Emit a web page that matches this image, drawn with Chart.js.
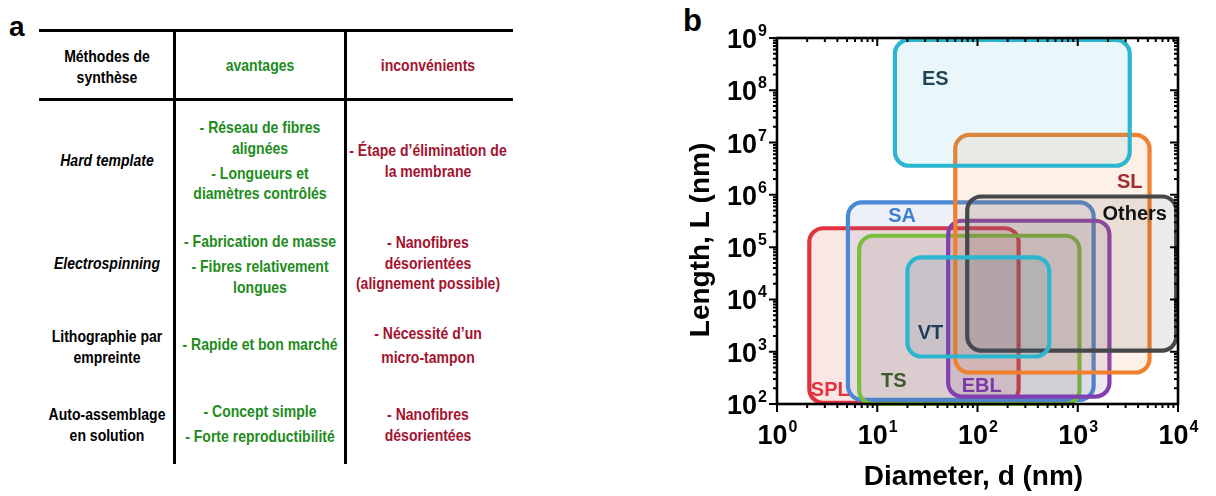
<!DOCTYPE html>
<html>
<head>
<meta charset="utf-8">
<script src="https://cdn.jsdelivr.net/npm/chart.js@4"></script>
<style>
    body { margin: 0; background: #fff; font-family: 'Liberation Sans', Arial, sans-serif; }
    #page { position: relative; width: 1216px; height: 496px; overflow: hidden; }
    .hline { position: absolute; left: 39px; width: 474px; height: 3px; background: #000; }
    .vline { position: absolute; top: 30px; width: 2.5px; height: 434px; background: #000; }
    .cell {
        position: absolute;
        transform: translate(-50%, -50%) scaleX(0.85);
        text-align: center;
        font-weight: bold;
        font-size: 16.5px;
        line-height: 20.5px;
        white-space: nowrap;
    }
    .cell p { margin: 0; }
    .cell p + p { margin-top: 4.5px; }
    .green { color: #218c1c; }
    .red { color: #a3122e; }
    .it { font-style: italic; }
    .panel { position: absolute; font-weight: bold; color: #000; }
    #chartBox { position: absolute; left: 680px; top: 0; width: 536px; height: 496px; }
</style>
</head>
<body>
<div id="page">
    <div class="panel" style="left:9px; top:11px; font-size:28px;">a</div>

    <div class="hline" style="top:29px;"></div>
    <div class="hline" style="top:98px;"></div>
    <div class="vline" style="left:173px;"></div>
    <div class="vline" style="left:344px;"></div>

    <!-- header -->
    <div class="cell" style="left:107px; top:66px;">Méthodes de<br>synthèse</div>
    <div class="cell green" style="left:260px; top:65px;">avantages</div>
    <div class="cell red" style="left:428px; top:65px;">inconvénients</div>

    <!-- Hard template -->
    <div class="cell it" style="left:107px; top:160px;">Hard template</div>
    <div class="cell green" style="left:260px; top:160px;">
        <p>- Réseau de fibres<br>alignées</p>
        <p>- Longueurs et<br>diamètres contrôlés</p>
    </div>
    <div class="cell red" style="left:428px; top:160px;">- Étape d’élimination de<br>la membrane</div>

    <!-- Electrospinning -->
    <div class="cell it" style="left:107px; top:263px;">Electrospinning</div>
    <div class="cell green" style="left:260px; top:264px;">
        <p>- Fabrication de masse</p>
        <p>- Fibres relativement<br>longues</p>
    </div>
    <div class="cell red" style="left:428px; top:263px;">- Nanofibres<br>désorientées<br>(alignement possible)</div>

    <!-- Lithographie -->
    <div class="cell" style="left:107px; top:346px;">Lithographie par<br>empreinte</div>
    <div class="cell green" style="left:260px; top:344px;">- Rapide et bon marché</div>
    <div class="cell red" style="left:428px; top:345px; line-height:24px;">- Nécessité d’un<br>micro-tampon</div>

    <!-- Auto-assemblage -->
    <div class="cell" style="left:107px; top:424px;">Auto-assemblage<br>en solution</div>
    <div class="cell green" style="left:260px; top:424px;">
        <p>- Concept simple</p>
        <p>- Forte reproductibilité</p>
    </div>
    <div class="cell red" style="left:428px; top:424px;">- Nanofibres<br>désorientées</div>

    <div class="panel" style="left:683px; top:3px; font-size:31px;">b</div>
    <div id="chartBox"><canvas id="rangeChart"></canvas></div>
</div>

<script>
// Fabrication methods and the diameter / length ranges they cover (nm)
const methods = ['SPL', 'SA', 'TS', 'EBL', 'SL', 'Others', 'VT', 'ES'];
const diamMin = [2.1, 5.1, 6.6, 51, 60, 79, 20, 15];
const diamMax = [257, 1440, 1040, 2070, 5200, 9600, 520, 3300];
const lenMin = [105, 120, 100, 138, 400, 1050, 810, 3.6e6];
const lenMax = [2.3e5, 7.2e5, 1.65e5, 3.2e5, 1.4e7, 9.3e5, 6.4e4, 9.2e8];

// where each method name is written
const labelDiam = [3.4, 17.7, 14.6, 110, 3300, 3700, 34, 38];
const labelLen = [185, 3.9e5, 270, 220, 1.7e6, 4.2e5, 2240, 1.6e8];

// tick exponents (10^n)
const xTickExps = [0, 1, 2, 3, 4];
const yTickExps = [2, 3, 4, 5, 6, 7, 8, 9];

const strokeColors = {
    SPL: '#e2323f', SA: '#4a89d6', TS: '#78be3c', EBL: '#8140b0',
    SL: '#f0802e', Others: '#45474a', VT: '#2bb5cf', ES: '#2bb5cf'
};
const fillColors = {
    SPL: 'rgba(226, 60, 60, 0.13)', SA: 'rgba(90, 120, 190, 0.11)', TS: 'rgba(120, 110, 70, 0.12)',
    EBL: 'rgba(110, 70, 120, 0.12)', SL: 'rgba(240, 140, 70, 0.13)', Others: 'rgba(70, 70, 70, 0.11)',
    VT: 'rgba(40, 120, 150, 0.10)', ES: 'rgba(43, 181, 207, 0.10)'
};
const labelColors = {
    SPL: '#e2323f', SA: '#3f7fd0', TS: '#3d5a2a', EBL: '#7a3aa6',
    SL: '#a02a2e', Others: '#111111', VT: '#1e3d5a', ES: '#1f4656'
};

function roundRect(ctx, x, y, w, h, r) {
    ctx.beginPath();
    ctx.moveTo(x + r, y);
    ctx.arcTo(x + w, y, x + w, y + h, r);
    ctx.arcTo(x + w, y + h, x, y + h, r);
    ctx.arcTo(x, y + h, x, y, r);
    ctx.arcTo(x, y, x + w, y, r);
    ctx.closePath();
}

// rounded range boxes drawn from each dataset's two corner points
const boxPlugin = {
    id: 'boxes',
    afterDatasetsDraw(chart) {
        const ctx = chart.ctx;
        const xs = chart.scales.x, ys = chart.scales.y;
        ctx.save();
        chart.data.datasets.forEach(ds => {
            const p0 = ds.data[0], p1 = ds.data[1];
            const x0 = xs.getPixelForValue(p0.x), x1 = xs.getPixelForValue(p1.x);
            const y0 = ys.getPixelForValue(p1.y), y1 = ys.getPixelForValue(p0.y);
            roundRect(ctx, x0, y0, x1 - x0, y1 - y0, 14);
            ctx.fillStyle = fillColors[ds.label];
            ctx.fill();
            ctx.lineWidth = 4.2;
            ctx.strokeStyle = strokeColors[ds.label];
            ctx.stroke();
        });
        ctx.font = 'bold 20px "Liberation Sans", Arial, sans-serif';
        ctx.textAlign = 'center';
        ctx.textBaseline = 'middle';
        methods.forEach((m, i) => {
            ctx.fillStyle = labelColors[m];
            ctx.fillText(m, xs.getPixelForValue(labelDiam[i]), ys.getPixelForValue(labelLen[i]));
        });
        ctx.restore();
    }
};

// frame, log ticks, power-of-ten labels and axis titles
const framePlugin = {
    id: 'frame',
    afterDraw(chart) {
        const ctx = chart.ctx;
        const a = chart.chartArea;
        const xs = chart.scales.x, ys = chart.scales.y;
        ctx.save();
        ctx.strokeStyle = '#000';
        ctx.fillStyle = '#000';

        // ticks
        ctx.lineWidth = 2;
        ctx.beginPath();
        for (let e = 0; e < 4; e++) {
            for (let k = 1; k <= 10; k++) {
                const v = k * Math.pow(10, e);
                if (v > 1e4) continue;
                const px = xs.getPixelForValue(v);
                const len = (k === 1 || k === 10) ? 8 : 4;
                ctx.moveTo(px, a.bottom); ctx.lineTo(px, a.bottom + len);
                ctx.moveTo(px, a.top); ctx.lineTo(px, a.top + len);
            }
        }
        for (let e = 2; e < 9; e++) {
            for (let k = 1; k <= 10; k++) {
                const v = k * Math.pow(10, e);
                const py = ys.getPixelForValue(v);
                const len = (k === 1 || k === 10) ? 8 : 4;
                ctx.moveTo(a.left, py); ctx.lineTo(a.left - len, py);
                ctx.moveTo(a.right, py); ctx.lineTo(a.right - len, py);
            }
        }
        ctx.stroke();

        // frame
        ctx.lineWidth = 2.6;
        ctx.strokeRect(a.left, a.top, a.right - a.left, a.bottom - a.top);

        const baseFont = 'bold 27px "Liberation Sans", Arial, sans-serif';
        const supFont = 'bold 16px "Liberation Sans", Arial, sans-serif';
        ctx.textBaseline = 'alphabetic';
        ctx.textAlign = 'left';

        xTickExps.forEach(n => {
            const px = xs.getPixelForValue(Math.pow(10, n));
            ctx.font = baseFont;
            const w1 = ctx.measureText('10').width;
            ctx.font = supFont;
            const w2 = ctx.measureText(String(n)).width;
            const start = px - (w1 + w2) / 2;
            ctx.font = baseFont;
            ctx.fillText('10', start, 444);
            ctx.font = supFont;
            ctx.fillText(String(n), start + w1 + 1, 432);
        });

        yTickExps.forEach(n => {
            const py = ys.getPixelForValue(Math.pow(10, n));
            ctx.font = supFont;
            const w2 = ctx.measureText(String(n)).width;
            ctx.font = baseFont;
            const w1 = ctx.measureText('10').width;
            const right = a.left - 10;
            ctx.fillText('10', right - w2 - 1 - w1, py + 10);
            ctx.font = supFont;
            ctx.fillText(String(n), right - w2, py - 2);
        });

        // axis titles
        ctx.font = 'bold 28px "Liberation Sans", Arial, sans-serif';
        ctx.textAlign = 'center';
        ctx.textBaseline = 'middle';
        ctx.fillText('Diameter, d (nm)', (a.left + a.right) / 2 - 4, 477);
        ctx.translate(21, 240);
        ctx.rotate(-Math.PI / 2);
        ctx.fillText('Length, L (nm)', 0, 0);
        ctx.restore();
    }
};

const datasets = methods.map((m, i) => ({
    label: m,
    data: [{ x: diamMin[i], y: lenMin[i] }, { x: diamMax[i], y: lenMax[i] }],
    pointRadius: 0,
    showLine: false
}));

new Chart(document.getElementById('rangeChart'), {
    type: 'scatter',
    data: { datasets: datasets },
    options: {
        responsive: true,
        maintainAspectRatio: false,
        animation: false,
        layout: { padding: { left: 97, right: 38, top: 38, bottom: 92 } },
        plugins: { legend: { display: false }, tooltip: { enabled: false } },
        scales: {
            x: { type: 'logarithmic', min: 1, max: 1e4, display: false },
            y: { type: 'logarithmic', min: 100, max: 1e9, display: false }
        }
    },
    plugins: [boxPlugin, framePlugin]
});
</script>
</body>
</html>
